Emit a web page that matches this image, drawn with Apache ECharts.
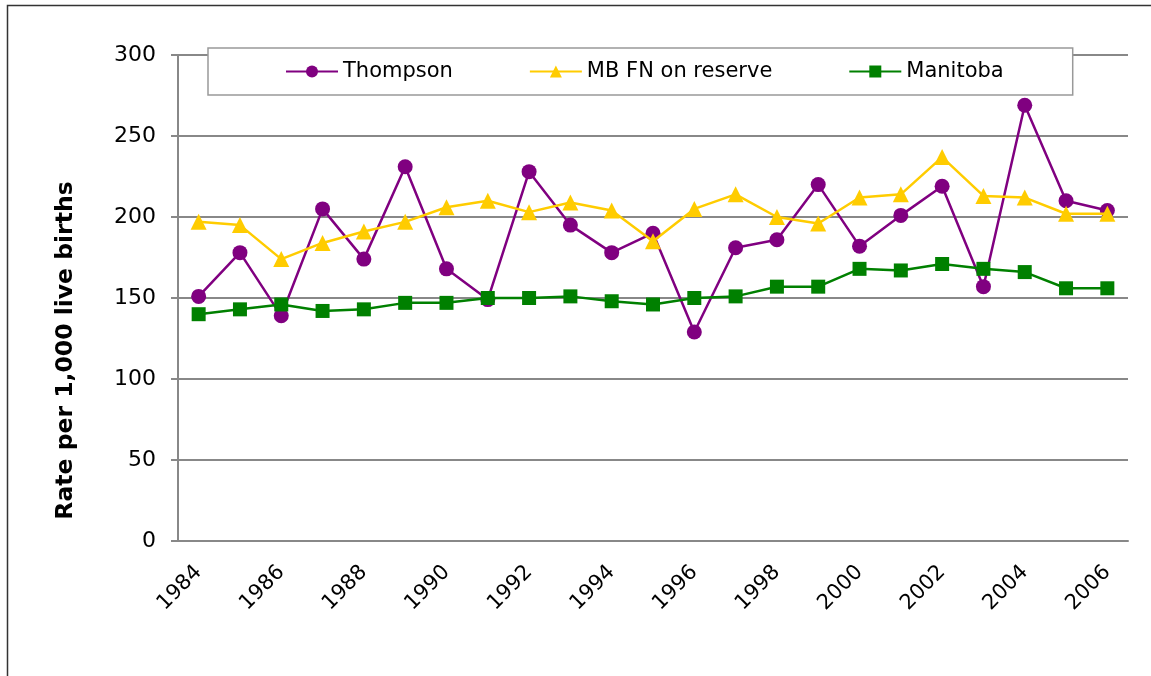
<!DOCTYPE html>
<html>
<head>
<meta charset="utf-8">
<script src="https://cdn.jsdelivr.net/npm/echarts@6/dist/echarts.min.js"></script>
<style>
  html, body { margin: 0; padding: 0; background: #fff; }
  #chart { width: 1151px; height: 676px; }
</style>
</head>
<body>
<div id="chart"></div>
<script>
var years = ['1984', '1985', '1986', '1987', '1988', '1989', '1990', '1991', '1992', '1993', '1994', '1995',
  '1996', '1997', '1998', '1999', '2000', '2001', '2002', '2003', '2004', '2005', '2006'];
var thompson = [151, 178, 139, 205, 174, 231, 168, 149, 228, 195, 178, 190,
  129, 181, 186, 220, 182, 201, 219, 157, 269, 210, 204];
var mbFnOnReserve = [197, 195, 174, 184, 191, 197, 206, 210, 203, 209, 204, 185,
  205, 214, 200, 196, 212, 214, 237, 213, 212, 202, 202];
var manitoba = [140, 143, 146, 142, 143, 147, 147, 150, 150, 151, 148, 146,
  150, 151, 157, 157, 168, 167, 171, 168, 166, 156, 156];

var myChart = echarts.init(document.getElementById('chart'));
var font = 'DejaVu Sans';

var option = {
  animation: false,
  textStyle: { fontFamily: font },
  graphic: [{
    type: 'rect',
    left: 5, top: 3,
    shape: { width: 1200, height: 700 },
    style: { fill: 'none', stroke: '#333', lineWidth: 1.5 },
    z: -1
  }],
  grid: { left: 178, right: 23, top: 55, bottom: 135 },
  legend: {
    left: 208, top: 48,
    padding: [13, 69, 13, 77],
    itemGap: 76,
    itemWidth: 52,
    itemHeight: 15,
    backgroundColor: '#fff',
    borderColor: '#999',
    borderWidth: 1.5,
    textStyle: { fontSize: 21, color: '#000', fontFamily: font },
    data: ['Thompson', 'MB FN on reserve', 'Manitoba']
  },
  xAxis: {
    type: 'category',
    data: years,
    boundaryGap: true,
    axisLine: { lineStyle: { color: '#888', width: 2 } },
    axisTick: { show: false },
    axisLabel: {
      interval: 1,
      rotate: 45,
      fontSize: 21,
      color: '#000',
      margin: 28
    }
  },
  yAxis: {
    type: 'value',
    min: 0, max: 300, interval: 50,
    name: 'Rate per 1,000 live births',
    nameLocation: 'middle',
    nameGap: 100,
    nameTextStyle: { fontSize: 23.5, fontWeight: 'bold', color: '#000', padding: [0, 105, 0, 0] },
    axisLine: { show: true, lineStyle: { color: '#888', width: 2 } },
    axisTick: { show: true, length: 7, lineStyle: { color: '#888', width: 2 } },
    axisLabel: { fontSize: 22, color: '#000', margin: 22 },
    splitLine: { lineStyle: { color: '#888', width: 2 } }
  },
  series: [{
    name: 'Thompson',
    type: 'line',
    data: thompson,
    symbol: 'circle',
    symbolSize: 15,
    itemStyle: { color: '#800080' },
    lineStyle: { color: '#800080', width: 2.5 },
    z: 3
  }, {
    name: 'MB FN on reserve',
    type: 'line',
    data: mbFnOnReserve,
    symbol: 'triangle',
    symbolSize: 16,
    itemStyle: { color: '#FFCC00' },
    lineStyle: { color: '#FFCC00', width: 2.5 },
    z: 4
  }, {
    name: 'Manitoba',
    type: 'line',
    data: manitoba,
    symbol: 'rect',
    symbolSize: 14,
    itemStyle: { color: '#008000' },
    lineStyle: { color: '#008000', width: 2.5 },
    z: 5
  }]
};

myChart.setOption(option);
</script>
</body>
</html>
